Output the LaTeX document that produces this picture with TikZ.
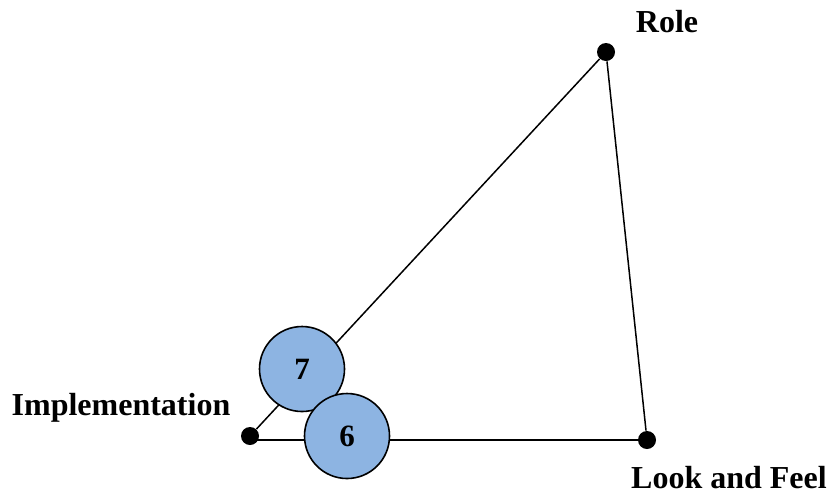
\documentclass[tikz,border=0pt]{standalone}
\usepackage{fontspec}
\setmainfont{Liberation Serif}
\usepackage{tikz}

\definecolor{bubble}{RGB}{141,180,226}
\tikzset{
  vertex/.style={circle,fill=black,inner sep=0pt,minimum size=9pt},
  bubblenode/.style={circle,draw=black,line width=0.8pt,fill=bubble,minimum size=42.5pt,inner sep=0pt,font=\fontsize{15.5}{17}\selectfont\bfseries},
  lbl/.style={font=\fontsize{16}{18}\selectfont\bfseries,inner sep=1pt}
}

\begin{document}
\begin{tikzpicture}[x=0.5pt,y=-0.5pt]
\useasboundingbox (0,0) rectangle (833,494);
\node[vertex] (role) at (606,52){};
\node[vertex] (impl) at (250,436){};
\node[vertex] (lf) at (647,440){};
\node[lbl] at (667,22){Role};
\node[lbl] at (121,408){Implementation};
\node[lbl] at (729,478){Look and Feel};
\draw[line width=0.75pt] (impl)--(role);
\draw[line width=0.75pt] (role)--(lf);
\draw[line width=0.75pt] (impl.center |- lf)--(lf);
%
\node[bubblenode] (seven) at (302,369){7};
\node[bubblenode] (six) at (347,436){6};
\end{tikzpicture}
\end{document}
